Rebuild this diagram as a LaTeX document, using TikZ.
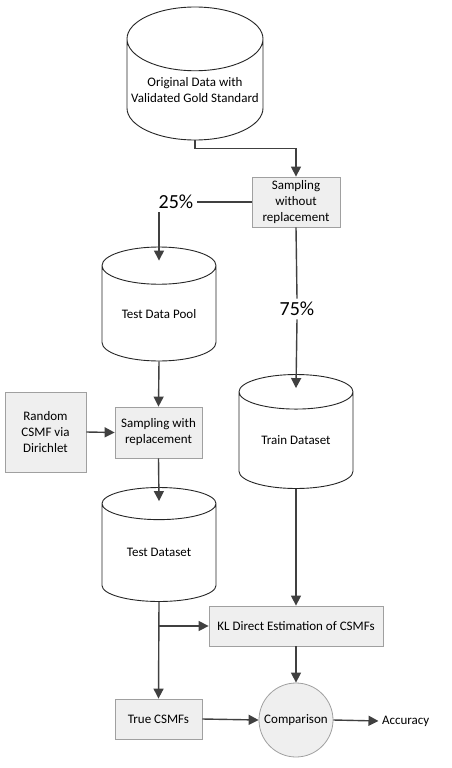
\documentclass[tikz,border=0pt]{standalone}
\usepackage{fontspec}
\setmainfont{Carlito}
\usepackage{tikz}
\usetikzlibrary{shapes.geometric, positioning}
\usetikzlibrary{calc}
\usetikzlibrary{arrows.meta}
\definecolor{boxgray}{RGB}{239,239,239}
\definecolor{bordergray}{RGB}{160,160,160}
\definecolor{linegray}{RGB}{64,64,64}

\begin{document}
\begin{tikzpicture}[x=1pt, y=-1pt, >={Triangle[length=10pt, width=10pt]},
		every node/.style={font=\fontsize{13}{16}\selectfont},
		datastore/.style={cylinder, shape border rotate=90, shape aspect=0.5, draw=black!85, line width=0.9pt, fill=white, align=center, inner sep=0pt, minimum width=114pt, minimum height=114pt, anchor=shape center},
		procbox/.style={rectangle, draw=bordergray, fill=boxgray, line width=0.8pt, align=center, inner sep=2pt},
		flow/.style={->, draw=linegray, line width=1.4pt},
		plainflow/.style={draw=linegray, line width=1.4pt},
		ratio/.style={font=\fontsize{20}{22}\selectfont}]
		
		% fix the size of the page
		\useasboundingbox (0,0) rectangle (451,768);
		
		% the data stores
		\node[datastore, minimum width=136pt, minimum height=133pt] (orig) at (195,73.5) {Original Data with\\Validated Gold Standard};
		\node[datastore] (pool) at (159,304) {Test Data Pool};
		\node[datastore] (train) at (296,431.5) {Train Dataset};
		\node[datastore] (test) at (159,544.5) {Test Dataset};
		
		% the processing boxes
		\node[procbox, minimum width=88pt, minimum height=50pt] (swr) at (296,202) {Sampling\\without\\replacement};
		\node[procbox, minimum width=87pt, minimum height=51pt] (swrep) at (158.5,432.5) {Sampling with\\replacement};
		\node[procbox, minimum width=81pt, minimum height=80pt] (rand) at (45.5,432) {Random\\CSMF via\\Dirichlet};
		\node[procbox, minimum width=174pt, minimum height=40pt] (kl) at (296,626) {KL Direct Estimation of CSMFs};
		\node[procbox, minimum width=87pt, minimum height=40pt] (true) at (158.5,719) {True CSMFs};
		\node[circle, draw=bordergray, fill=boxgray, line width=0.8pt, minimum size=74pt, inner sep=0pt] (cmp) at (296,720) {Comparison};
		\node[anchor=west] (acc) at (378.5,721) {Accuracy};
		
		% the split ratios
		\node[ratio] (p25) at (176,202) {25\%};
		\node[ratio] (p75) at (297,309) {75\%};
		
		% draw the connectors
		\draw[flow] (orig.south) -- ++(0,8) -| (swr.north);
		\draw[plainflow] (swr.west) -- (p25.east);
		\draw[flow] (p25.south -| pool.north) -- ([yshift=-14pt]pool.north);
		\draw[plainflow] (swr.south) -- (p75.north);
		\draw[flow] (p75.south) -- ([yshift=-14pt]train.north);
		\draw[flow] (pool.south) -- (swrep.north);
		\draw[flow] (rand.east) -- (swrep.west);
		\draw[flow] (swrep.south) -- ([yshift=-14pt]test.north);
		\draw[flow] (test.south) -- (true.north);
		\draw[flow] (test.south |- kl.west) -- (kl.west);
		\draw[flow] (train.south) -- (kl.north);
		\draw[flow] (kl.south) -- (cmp.north);
		\draw[flow] (true.east) -- (cmp.west);
		\draw[flow] (cmp.east) -- (acc.west);
	\end{tikzpicture}
\end{document}
